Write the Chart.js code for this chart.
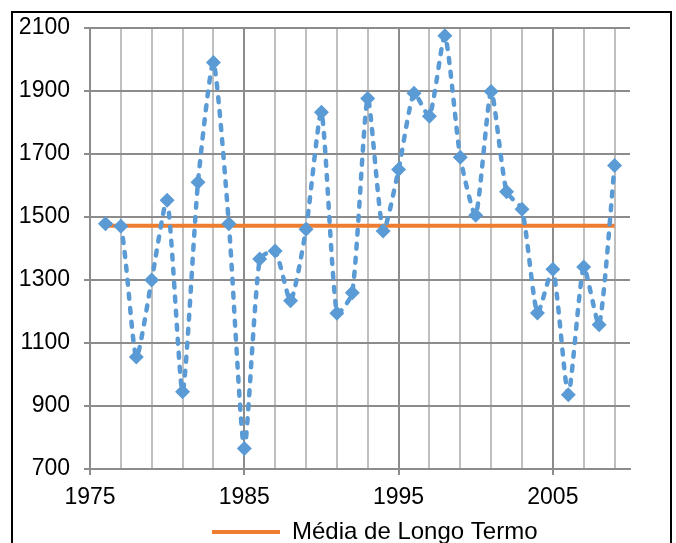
<!DOCTYPE html>
<html>
<head>
<meta charset="utf-8">
<script src="https://cdn.jsdelivr.net/npm/chart.js@4"></script>
<style>
  html, body { margin: 0; padding: 0; overflow: hidden; background: #fff; }
  #frame { position: absolute; left: 11px; top: 11px; width: 657px; height: 600px; border: 2px solid #000; }
  #chart { position: absolute; left: 0; top: 0; }
</style>
</head>
<body>
<canvas id="chart" width="676" height="553"></canvas>
<div id="frame"></div>
<script>
const years = [1976, 1977, 1978, 1979, 1980, 1981, 1982, 1983, 1984, 1985,
  1986, 1987, 1988, 1989, 1990, 1991, 1992, 1993, 1994, 1995,
  1996, 1997, 1998, 1999, 2000, 2001, 2002, 2003, 2004, 2005,
  2006, 2007, 2008, 2009];
const values = [1478, 1470, 1055, 1300, 1553, 945, 1610, 1990, 1478, 765,
  1366, 1392, 1234, 1461, 1832, 1194, 1259, 1876, 1455, 1650,
  1892, 1819, 2075, 1689, 1505, 1898, 1580, 1524, 1195, 1334,
  936, 1341, 1158, 1663];
const meanValue = 1472;
const meanLabel = 'Média de Longo Termo';

const labelYears = [1975, 1985, 1995, 2005];
const gridYears = [1975, 1977, 1979, 1981, 1983, 1985, 1987, 1989, 1991, 1993,
  1995, 1997, 1999, 2001, 2003, 2005, 2007, 2009];
const yTicks = [700, 900, 1100, 1300, 1500, 1700, 1900, 2100];

const blue = '#5B9BD5';
const orange = '#ED7D31';
const darkGrid = '#8C8C8C';
const lightGrid = '#BFBFBF';
const font = { family: '"Liberation Sans", Arial, sans-serif', size: 23 };

// move the legend so it sits where the original has it
const legendShift = {
  id: 'legendShift',
  afterLayout(chart) {
    const l = chart.legend;
    const dx = 202 - l.left;
    const dy = 510 - l.top;
    l.left += dx; l.right += dx;
    l.top += dy; l.bottom += dy;
  }
};

new Chart(document.getElementById('chart'), {
  type: 'line',
  data: {
    datasets: [{
      label: 'Precipitação',
      data: years.map((y, i) => ({ x: y, y: values[i] })),
      borderColor: blue,
      backgroundColor: blue,
      borderWidth: 4.5,
      borderDash: [5, 9],
      borderCapStyle: 'round',
      tension: 0.2,
      pointStyle: 'rectRot',
      pointRadius: 7.5,
      pointBorderWidth: 0
    }, {
      label: meanLabel,
      data: [{ x: years[0], y: meanValue }, { x: years[years.length - 1], y: meanValue }],
      borderColor: orange,
      backgroundColor: orange,
      borderWidth: 4,
      pointRadius: 0
    }]
  },
  options: {
    responsive: false,
    animation: false,
    layout: { padding: { top: 26, right: 46, left: 0, bottom: 0 } },
    plugins: {
      tooltip: { enabled: false },
      legend: {
        position: 'bottom',
        align: 'start',
        labels: {
          font: { family: font.family, size: 24 },
          color: '#000',
          boxWidth: 68,
          boxHeight: 4,
          generateLabels: () => [{
            text: meanLabel, fillStyle: orange, strokeStyle: orange, lineWidth: 0, datasetIndex: 1
          }]
        }
      }
    },
    scales: {
      x: {
        type: 'linear',
        min: 1975,
        max: 2010,
        afterBuildTicks: axis => { axis.ticks = gridYears.map(v => ({ value: v })); },
        afterFit: s => { s.height = 40; },
        ticks: {
          autoSkip: false,
          maxRotation: 0,
          padding: 9,
          font: font,
          color: '#000',
          callback: v => labelYears.includes(v) ? String(v) : ''
        },
        grid: {
          lineWidth: 2,
          tickLength: 6,
          color: ctx => (ctx.tick && labelYears.includes(ctx.tick.value)) ? darkGrid : lightGrid,
          tickColor: ctx => (ctx.tick && labelYears.includes(ctx.tick.value)) ? darkGrid : 'rgba(0,0,0,0)'
        },
        border: { color: darkGrid, width: 2 }
      },
      y: {
        min: 700,
        max: 2100,
        afterBuildTicks: axis => { axis.ticks = yTicks.map(v => ({ value: v })); },
        afterFit: s => { s.width = 90; },
        ticks: { padding: 14, font: font, color: '#000', callback: v => String(v) },
        grid: { lineWidth: 2, tickLength: 6, color: darkGrid, tickColor: darkGrid },
        border: { color: darkGrid, width: 2 }
      }
    }
  },
  plugins: [legendShift]
});
</script>
</body>
</html>
